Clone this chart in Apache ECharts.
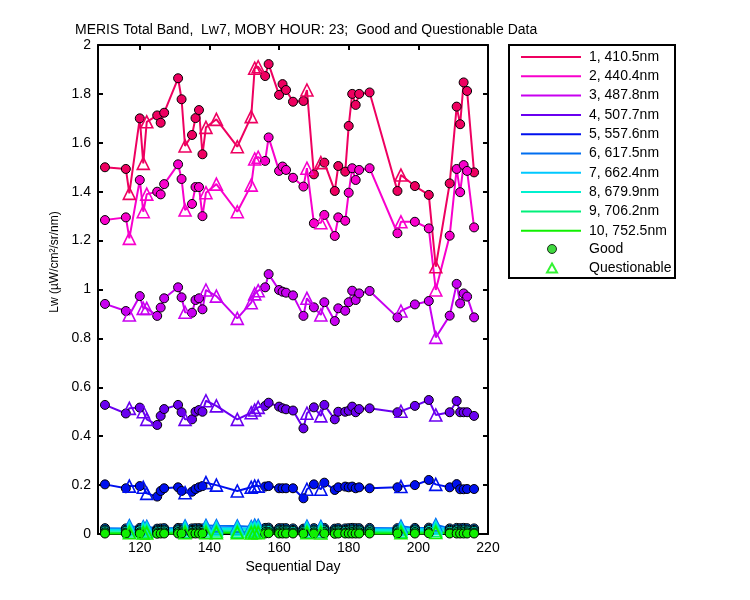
<!DOCTYPE html>
<html>
<head>
<meta charset="utf-8">
<script src="https://cdn.jsdelivr.net/npm/echarts@6/dist/echarts.min.js"></script>
<style>
  html, body { margin: 0; padding: 0; background: #fff; }
  #chart { width: 750px; height: 600px; }
</style>
</head>
<body>
<div id="chart"></div>
<script>
// sequential days (x values)
var days = [110, 116, 117, 120, 121, 122, 125, 126, 127, 131, 132, 133, 135, 136, 137, 138, 139, 142, 148, 152,
  153, 154, 156, 157, 160, 161, 162, 164, 167, 168, 170, 172, 173, 176, 177, 179, 180, 181, 182, 183,
  186, 194, 195, 199, 203, 205, 209, 211, 212, 213, 214, 216]
// days flagged as questionable (triangles), all others are good (circles)
var questionableDays = [117, 121, 122, 133, 139, 142, 148, 152, 153, 154, 168, 172, 195, 205]

var bandNames = ['1, 410.5nm', '2, 440.4nm', '3, 487.8nm', '4, 507.7nm', '5, 557.6nm',
  '6, 617.5nm', '7, 662.4nm', '8, 679.9nm', '9, 706.2nm', '10, 752.5nm']

var band1 = [1.50, 1.493, 1.393, 1.70, 1.516, 1.686, 1.712, 1.682, 1.723, 1.864, 1.778, 1.587, 1.632, 1.701, 1.734, 1.553, 1.663, 1.696, 1.584, 1.707,
  1.905, 1.911, 1.873, 1.922, 1.796, 1.84, 1.816, 1.768, 1.771, 1.816, 1.471, 1.519, 1.519, 1.403, 1.505, 1.482, 1.669, 1.80, 1.755, 1.80,
  1.806, 1.403, 1.468, 1.423, 1.387, 1.093, 1.434, 1.748, 1.676, 1.847, 1.812, 1.479]
var band2 = [1.284, 1.295, 1.209, 1.448, 1.318, 1.39, 1.40, 1.389, 1.431, 1.512, 1.452, 1.325, 1.35, 1.419, 1.419, 1.30, 1.396, 1.431, 1.318, 1.427,
  1.534, 1.541, 1.526, 1.622, 1.485, 1.503, 1.489, 1.457, 1.421, 1.496, 1.271, 1.273, 1.305, 1.219, 1.295, 1.281, 1.396, 1.496, 1.448, 1.489,
  1.496, 1.23, 1.277, 1.277, 1.25, 0.998, 1.22, 1.493, 1.398, 1.509, 1.485, 1.254]
var band3 = [0.941, 0.912, 0.896, 0.973, 0.923, 0.923, 0.892, 0.926, 0.964, 1.009, 0.968, 0.907, 0.905, 0.957, 0.964, 0.919, 0.998, 0.973, 0.882, 0.946,
  0.982, 0.995, 1.009, 1.063, 0.998, 0.991, 0.987, 0.976, 0.892, 0.964, 0.927, 0.896, 0.948, 0.871, 0.923, 0.913, 0.948, 0.995, 0.957, 0.984,
  0.994, 0.886, 0.912, 0.939, 0.953, 0.804, 0.893, 1.023, 0.943, 0.984, 0.971, 0.886]
var band4 = [0.528, 0.493, 0.514, 0.517, 0.50, 0.469, 0.446, 0.483, 0.511, 0.528, 0.498, 0.469, 0.469, 0.50, 0.507, 0.50, 0.545, 0.524, 0.469, 0.496,
  0.507, 0.518, 0.524, 0.537, 0.521, 0.514, 0.51, 0.505, 0.432, 0.494, 0.518, 0.483, 0.528, 0.469, 0.50, 0.50, 0.504, 0.521, 0.498, 0.511,
  0.514, 0.498, 0.502, 0.524, 0.548, 0.487, 0.498, 0.544, 0.498, 0.498, 0.498, 0.483]
var band5 = [0.203, 0.187, 0.196, 0.196, 0.191, 0.166, 0.153, 0.176, 0.187, 0.191, 0.176, 0.169, 0.173, 0.184, 0.191, 0.196, 0.21, 0.20, 0.176, 0.191,
  0.196, 0.196, 0.194, 0.196, 0.187, 0.187, 0.187, 0.187, 0.146, 0.183, 0.203, 0.183, 0.21, 0.18, 0.191, 0.194, 0.191, 0.194, 0.187, 0.191,
  0.187, 0.191, 0.194, 0.20, 0.221, 0.203, 0.191, 0.204, 0.183, 0.183, 0.184, 0.184]
var band6 = [0.024, 0.023, 0.034, 0.025, 0.030, 0.031, 0.022, 0.023, 0.024, 0.025, 0.024, 0.033, 0.023, 0.024, 0.024, 0.023, 0.035, 0.034, 0.033, 0.030,
  0.036, 0.035, 0.025, 0.026, 0.024, 0.024, 0.024, 0.023, 0.022, 0.032, 0.024, 0.031, 0.025, 0.022, 0.024, 0.023, 0.024, 0.025, 0.024, 0.024,
  0.025, 0.024, 0.032, 0.025, 0.026, 0.038, 0.023, 0.025, 0.024, 0.025, 0.024, 0.023]
var band7 = [0.018, 0.017, 0.026, 0.019, 0.023, 0.024, 0.016, 0.017, 0.018, 0.019, 0.018, 0.025, 0.017, 0.018, 0.018, 0.017, 0.027, 0.026, 0.025, 0.023,
  0.027, 0.027, 0.019, 0.020, 0.018, 0.018, 0.018, 0.017, 0.016, 0.024, 0.018, 0.023, 0.019, 0.016, 0.018, 0.017, 0.018, 0.019, 0.018, 0.018,
  0.019, 0.018, 0.024, 0.019, 0.020, 0.029, 0.017, 0.019, 0.018, 0.019, 0.018, 0.017]
var band8 = [0.014, 0.013, 0.020, 0.015, 0.018, 0.019, 0.012, 0.013, 0.014, 0.015, 0.014, 0.019, 0.013, 0.014, 0.014, 0.013, 0.021, 0.020, 0.019, 0.018,
  0.021, 0.021, 0.015, 0.016, 0.014, 0.014, 0.014, 0.013, 0.012, 0.019, 0.014, 0.018, 0.015, 0.012, 0.014, 0.013, 0.014, 0.015, 0.014, 0.014,
  0.015, 0.014, 0.019, 0.015, 0.016, 0.023, 0.013, 0.015, 0.014, 0.015, 0.014, 0.013]
var band9 = [0.007, 0.006, 0.012, 0.007, 0.010, 0.011, 0.006, 0.006, 0.007, 0.008, 0.007, 0.011, 0.006, 0.007, 0.007, 0.006, 0.012, 0.012, 0.011, 0.010,
  0.013, 0.012, 0.008, 0.008, 0.007, 0.007, 0.007, 0.006, 0.006, 0.011, 0.007, 0.010, 0.008, 0.006, 0.007, 0.006, 0.007, 0.008, 0.007, 0.007,
  0.008, 0.007, 0.011, 0.008, 0.008, 0.014, 0.006, 0.008, 0.007, 0.008, 0.007, 0.006]
var band10 = [0.002, 0.002, 0.005, 0.002, 0.004, 0.004, 0.001, 0.002, 0.002, 0.002, 0.002, 0.005, 0.002, 0.002, 0.002, 0.002, 0.005, 0.005, 0.005, 0.004,
  0.006, 0.005, 0.002, 0.003, 0.002, 0.002, 0.002, 0.002, 0.001, 0.005, 0.002, 0.004, 0.002, 0.001, 0.002, 0.002, 0.002, 0.002, 0.002, 0.002,
  0.002, 0.002, 0.005, 0.002, 0.003, 0.006, 0.002, 0.002, 0.002, 0.002, 0.002, 0.002]

var bands = [band1, band2, band3, band4, band5, band6, band7, band8, band9, band10]
var bandColors = ['#ee0060', '#f800cc', '#c800f0', '#6a00f0', '#0010ee',
  '#006ef0', '#00c8ff', '#00f0d0', '#00f07a', '#10f000']

var xTicks = [120, 140, 160, 180, 200, 220]
var font = 'Liberation Sans, Arial, sans-serif'

var series = []
bands.forEach(function (vals, i) {
  var color = bandColors[i]
  var all = [], good = [], quest = []
  days.forEach(function (d, k) {
    all.push([d, vals[k]])
    if (questionableDays.indexOf(d) >= 0) quest.push([d, vals[k]])
    else good.push([d, vals[k]])
  })
  // connecting line
  series.push({
    name: bandNames[i],
    type: 'line',
    symbol: 'none',
    data: all,
    lineStyle: { color: color, width: 2 },
    itemStyle: { color: color },
    z: 2
  })
  // good points
  series.push({
    name: bandNames[i] + ' good',
    type: 'scatter',
    symbol: 'circle',
    symbolSize: 9,
    data: good,
    itemStyle: { color: color, borderColor: '#000', borderWidth: 1, opacity: 1 },
    z: 3
  })
  // questionable points
  series.push({
    name: bandNames[i] + ' questionable',
    type: 'scatter',
    symbol: 'triangle',
    symbolSize: 12,
    data: quest,
    itemStyle: { color: 'rgba(255,255,255,0)', borderColor: color, borderWidth: 1.6, opacity: 1 },
    z: 3
  })
})
// legend-only entries
series.push({ name: 'Good', type: 'scatter', data: [], itemStyle: { color: '#10d010' } })
series.push({ name: 'Questionable', type: 'scatter', data: [], itemStyle: { color: '#00f000' } })

var option = {
  animation: false,
  textStyle: { fontFamily: font },
  title: {
    text: 'MERIS Total Band,  Lw7, MOBY HOUR: 23;  Good and Questionable Data',
    left: 75,
    top: 23,
    padding: 0,
    textStyle: { fontSize: 14, fontWeight: 'normal', color: '#000', fontFamily: font }
  },
  grid: { left: 98, top: 45, width: 390, height: 489 },
  // legend box border
  graphic: [{
    type: 'rect',
    shape: { x: 509, y: 45, width: 166, height: 233 },
    style: { fill: 'none', stroke: '#000', lineWidth: 2 },
    silent: true
  }],
  legend: [
    {
      orient: 'vertical',
      left: 509,
      top: 45,
      padding: [5, 0, 0, 12],
      icon: 'rect',
      itemWidth: 60,
      itemHeight: 2,
      itemGap: 5.3,
      selectedMode: false,
      textStyle: { fontSize: 14, lineHeight: 14, color: '#000', fontFamily: font, padding: [0, 0, 0, 3] },
      data: bandNames
    },
    {
      orient: 'vertical',
      left: 546,
      top: 242,
      padding: 0,
      itemWidth: 10,
      itemHeight: 9,
      itemGap: 5,
      selectedMode: false,
      textStyle: { fontSize: 14, lineHeight: 14, color: '#000', fontFamily: font, padding: [0, 0, 0, 27] },
      data: [
        { name: 'Good', icon: 'circle', itemStyle: { color: '#10d010', borderColor: '#000', borderWidth: 1 } },
        { name: 'Questionable', icon: 'triangle', itemStyle: { color: 'rgba(255,255,255,0)', borderColor: '#00f000', borderWidth: 2 } }
      ]
    }
  ],
  xAxis: [
    {
      type: 'value',
      min: 108,
      max: 220,
      name: 'Sequential Day',
      nameLocation: 'middle',
      nameGap: 26,
      nameTextStyle: { fontSize: 14, color: '#000' },
      axisLine: { lineStyle: { color: '#000', width: 2 } },
      axisTick: { inside: true, length: 5, customValues: xTicks, lineStyle: { color: '#000', width: 2 } },
      axisLabel: { customValues: xTicks, fontSize: 14, color: '#000', margin: 7 },
      splitLine: { show: false }
    },
    {
      type: 'value',
      position: 'top',
      min: 108,
      max: 220,
      axisLine: { onZero: false, lineStyle: { color: '#000', width: 2 } },
      axisTick: { inside: true, length: 5, customValues: xTicks, lineStyle: { color: '#000', width: 2 } },
      axisLabel: { show: false },
      splitLine: { show: false }
    }
  ],
  yAxis: [
    {
      type: 'value',
      min: 0,
      max: 2,
      interval: 0.2,
      name: 'Lw (µW/cm²/sr/nm)',
      nameLocation: 'middle',
      nameGap: 34,
      nameTextStyle: { fontSize: 12, color: '#000', padding: [0, 0, 0, 55] },
      axisLine: { show: true, lineStyle: { color: '#000', width: 2 } },
      axisTick: { show: true, inside: true, length: 5, lineStyle: { color: '#000', width: 2 } },
      axisLabel: { fontSize: 14, color: '#000', margin: 7 },
      splitLine: { show: false }
    },
    {
      type: 'value',
      position: 'right',
      min: 0,
      max: 2,
      interval: 0.2,
      axisLine: { show: true, onZero: false, lineStyle: { color: '#000', width: 2 } },
      axisTick: { show: true, inside: true, length: 5, lineStyle: { color: '#000', width: 2 } },
      axisLabel: { show: false },
      splitLine: { show: false }
    }
  ],
  series: series
}

var mCharts = echarts.init(document.getElementById('chart'))
mCharts.setOption(option)
</script>
</body>
</html>
